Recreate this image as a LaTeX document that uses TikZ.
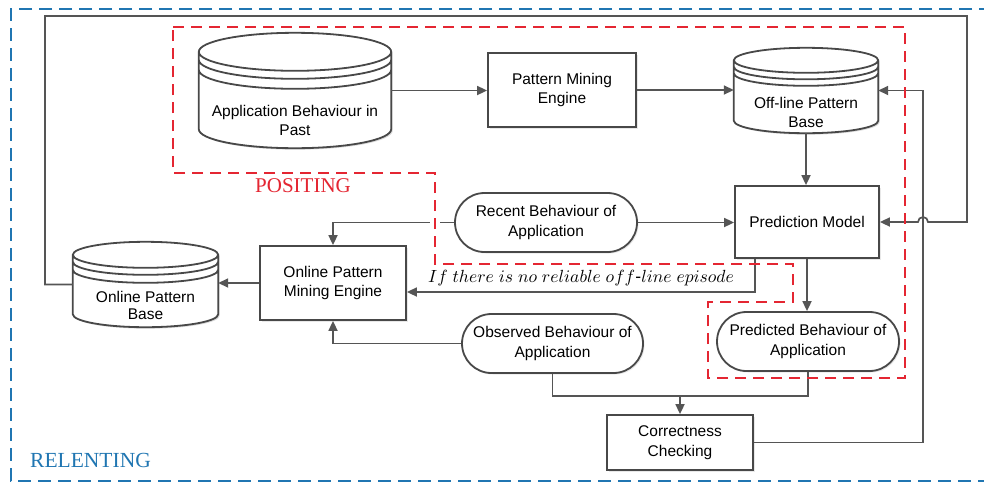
\documentclass[tikz,border=0pt]{standalone}
\usepackage{fontspec}
\setmainfont{Liberation Sans}
\newfontfamily\tmsfont{Liberation Serif}
\usetikzlibrary{arrows.meta,calc,shapes.misc,shadows}
\definecolor{boxgray}{RGB}{72,72,72}
\definecolor{conngray}{RGB}{85,85,85}
\definecolor{posred}{RGB}{228,38,50}
\definecolor{relblue}{RGB}{32,118,178}
\tikzset{
  boxtext/.style={font=\fontsize{15.5}{19.5}\selectfont, align=center, text=black, inner sep=0pt},
  procbox/.style={draw=boxgray, line width=1.8pt, fill=white, rectangle, boxtext,
    drop shadow={opacity=0.18, shadow xshift=1.5pt, shadow yshift=-1.5pt}},
  termbox/.style={procbox, rounded rectangle},
  cylnode/.style={rectangle, draw=none, inner sep=0pt},
  conn/.style={draw=conngray, line width=1.7pt},
  arr/.style={conn, -{Triangle[length=10pt,width=9pt]}},
  regionline/.style={line width=2.4pt, dash pattern=on 11pt off 7pt},
}
\newcommand\drawcyl[4]{%
  \fill[black, opacity=0.15]
    let \p1=(#1.north west), \p2=(#1.south east), \n1={(\x2-\x1)/2} in
    (\x1+1.5pt,\y1-#2pt-1.5pt) -- (\x1+1.5pt,\y2+#2pt-1.5pt)
      arc[start angle=180,end angle=360,x radius=\n1,y radius=#2pt]
      -- (\x2+1.5pt,\y1-#2pt-1.5pt)
      arc[start angle=0,end angle=180,x radius=\n1,y radius=#2pt] -- cycle;
  \draw[draw=boxgray, line width=1.8pt, fill=white]
    let \p1=(#1.north west), \p2=(#1.south east), \n1={(\x2-\x1)/2} in
    (\x1,\y1-#2pt) -- (\x1,\y2+#2pt)
      arc[start angle=180,end angle=360,x radius=\n1,y radius=#2pt]
      -- (\x2,\y1-#2pt)
      arc[start angle=0,end angle=180,x radius=\n1,y radius=#2pt] -- cycle
    (\x1,\y1-#2pt) arc[start angle=180,end angle=360,x radius=\n1,y radius=#2pt]
    (\x1,\y1-#2pt-#3pt) arc[start angle=180,end angle=360,x radius=\n1,y radius=#2pt]
    (\x1,\y1-#2pt-#4pt) arc[start angle=180,end angle=360,x radius=\n1,y radius=#2pt];
}
\begin{document}
\begin{tikzpicture}[x=1pt,y=-1pt]
\useasboundingbox (0,0) rectangle (984,485);
\fill[white] (0,0) rectangle (984,485);
% outer RELENTING frame
\draw[relblue, regionline, line width=2.2pt, dash pattern=on 13pt off 7pt]
  (992,9) -- (11,9) -- (11,481) -- (992,481);

% nodes
\node[cylnode, minimum width=192pt, minimum height=115pt] (app) at (295,90.5) {};
\drawcyl{app}{19}{8}{18}
\node[boxtext] (appt) at ([yshift=-30pt]app.center) {Application Behaviour in\\Past};

\node[procbox, minimum width=148pt, minimum height=74pt] (pme) at (562,90) {Pattern Mining\\Engine};

\node[cylnode, minimum width=144pt, minimum height=85pt] (off) at (806,90.5) {};
\drawcyl{off}{12.5}{6.5}{13}
\node[boxtext] (offt) at ([yshift=-22pt]off.center) {Off-line Pattern\\Base};

\node[procbox, minimum width=144pt, minimum height=72pt] (pm) at (807,222) {Prediction Model};
\node[termbox, minimum width=182pt, minimum height=59pt] (rec) at (546,222.5) {Recent Behaviour of\\Application};
\node[procbox, minimum width=146pt, minimum height=74pt] (opme) at (333,283) {Online Pattern\\Mining Engine};

\node[cylnode, minimum width=145pt, minimum height=85pt] (opb) at (145.5,284.5) {};
\drawcyl{opb}{13}{7}{15}
\node[boxtext, font=\fontsize{15.5}{16.5}\selectfont] (opbt) at ([yshift=-21pt]opb.center) {Online Pattern\\Base};

\node[termbox, minimum width=182pt, minimum height=59pt] (pred) at (808,341.5) {Predicted Behaviour of\\Application};
\node[termbox, minimum width=181pt, minimum height=59pt] (obs) at (552.5,343.5) {Observed Behaviour of\\Application};
\node[procbox, minimum width=146pt, minimum height=55pt] (cc) at (680,442.5) {Correctness\\Checking};

% connectors
\draw[arr] (app.east) -- (app.east -| pme.west);
\draw[arr] (pme.east) -- (pme.east -| off.west);
\draw[arr] (off.south) -- (off.south |- pm.north);
\draw[arr] (rec.east) -- (rec.east -| pm.west);
\draw[arr] (pm.south) -- (pm.south |- pred.north);
\draw[arr] (rec.west) -| (opme.north);
\coordinate (nr) at ([xshift=21pt]pm.south west);
\draw[arr] (nr) |- ([yshift=-9pt]opme.east)
  node[pos=0.75, anchor=base, yshift=10pt, inner sep=0pt] (cond)
  {\scalebox{1.76}{$If\ there\ is\ no\ reliable\ off$-$line\ episode$}};
\draw[arr] (opme.west) -- (opme.west -| opb.east);
\draw[arr] (obs.west) -| (opme.south);
\coordinate (join) at (680,396);
\draw[conn] (obs.south) |- (join) -| (pred.south);
\draw[arr] (join) -- (cc.north);
\coordinate (rx) at (923,0);
\draw[arr] (cc.east) -| (rx |- off.east) -- (off.east);
\coordinate (lx) at (45,16);
\coordinate (tx) at (967,16);
\draw[arr] (opb.west) -- (opb.west -| lx) -- (lx) -- (tx) -- (tx |- pm.east)
  -- (928,222) arc[start angle=0,end angle=180,radius=5pt] -- (pm.east);

% POSITING region
\draw[white, line width=10pt] (435,216) -- (435,228);
\draw[posred, regionline]
  (173,27) -- (905,27) -- (905,378) -- (708,378) -- (708,302) -- (793,302)
  -- (793,264) -- (435,264) -- (435,173) -- (173,173) -- cycle;
\node[text=posred, font=\tmsfont\fontsize{21}{21}\selectfont, anchor=base west, inner sep=0pt] (pos) at (255,192) {POSITING};
\node[text=relblue, font=\tmsfont\fontsize{21.5}{21.5}\selectfont, anchor=base west, inner sep=0pt] (rel) at (30,467) {RELENTING};
\end{tikzpicture}
\end{document}
